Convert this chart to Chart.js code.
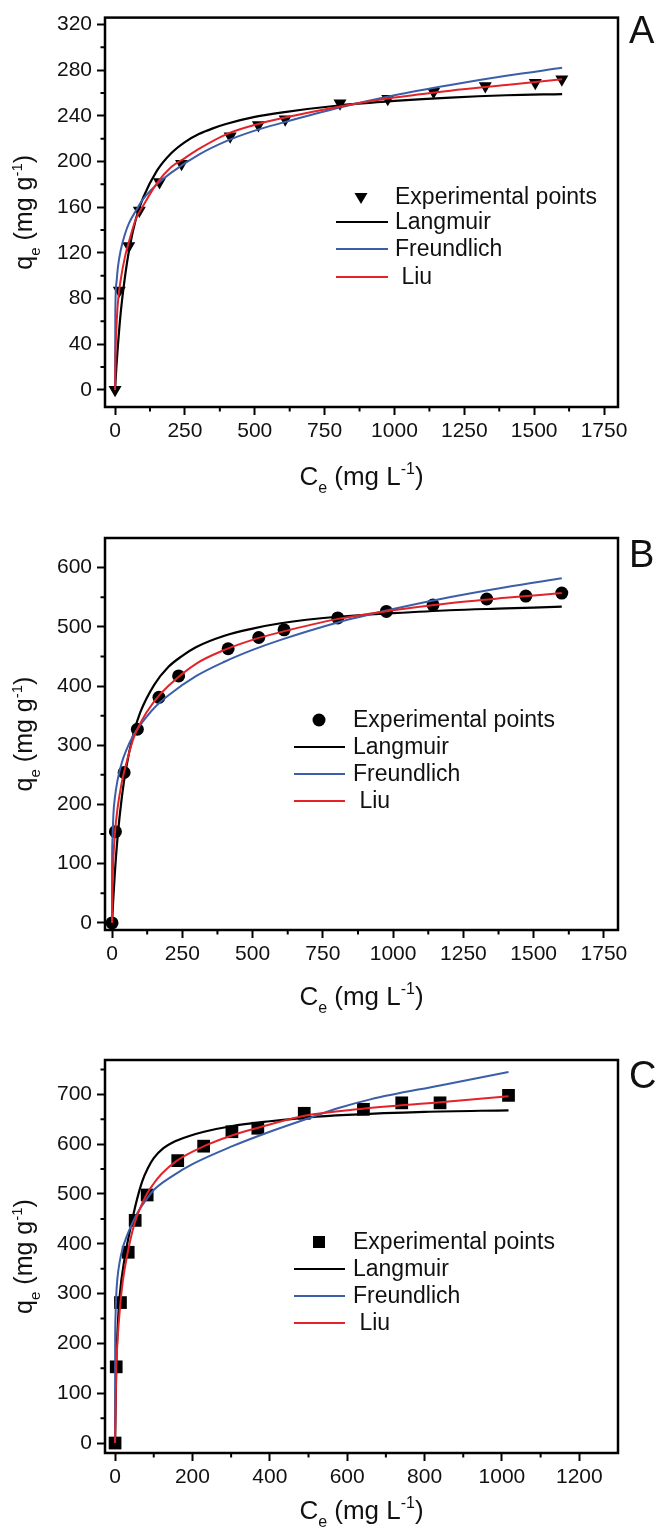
<!DOCTYPE html>
<html>
<head>
<meta charset="utf-8">
<script src="https://cdn.jsdelivr.net/npm/chart.js@4.4.1/dist/chart.umd.min.js"></script>
<style>
  html,body{margin:0;padding:0;background:#fff;}
  #wrap{position:relative;width:663px;height:1533px;}
  canvas{position:absolute;left:0;}
</style>
</head>
<body>

<div id="wrap">
  <canvas id="panelA" width="663" height="500" style="top:0px"></canvas>
  <canvas id="panelB" width="663" height="500" style="top:520px"></canvas>
  <canvas id="panelC" width="663" height="493" style="top:1040px"></canvas>
</div>

<script>
/*************************************************
 ISOTHERMS  A / B / C
*************************************************/


/* =========================================
   DATA
========================================= */

// --- A ---
const ceA = [0, 15, 49, 87, 159, 238, 412, 513, 609, 805, 976, 1140, 1325, 1504, 1599];
const qeA = [0, 87, 126, 157, 182, 198, 222, 232, 237, 251, 255, 261, 266, 269, 272];

const langCeA = [0, 5, 10, 20, 35, 50, 75, 100, 150, 200, 250, 300, 350, 400, 500, 600, 800, 1000, 1200, 1400, 1600];
const langQeA = [0, 21, 38, 67, 98, 122, 150, 168, 192, 207, 217, 224, 229, 233, 239, 243, 249, 253, 256, 258, 259];

const freuCeA = [0, 1, 5, 10, 20, 35, 50, 75, 100, 150, 200, 300, 400, 500, 600, 800, 1000, 1200, 1400, 1600];
const freuQeA = [0, 69, 94, 107, 122, 136, 146, 157, 167, 180, 190, 206, 218, 227, 234, 247, 258, 267, 275, 282];

const liuCeA = [0, 2, 5, 10, 20, 35, 50, 75, 100, 150, 200, 250, 300, 400, 500, 600, 800, 1000, 1200, 1400, 1600];
const liuQeA = [0, 35, 55, 76, 96, 116, 130, 150, 161, 181, 195, 203, 211, 224, 232, 238, 248, 256, 262, 267, 272];

// --- B ---
const ceB = [0, 12, 43, 90, 167, 237, 413, 522, 612, 803, 976, 1142, 1333, 1472, 1600];
const qeB = [0, 154, 254, 327, 381, 417, 463, 482, 495, 515, 526, 537, 547, 552, 557];

const langCeB = [0, 5, 10, 20, 35, 50, 75, 100, 150, 200, 250, 300, 400, 500, 600, 800, 1000, 1200, 1400, 1600];
const langQeB = [0, 45, 84, 146, 213, 261, 317, 355, 402, 432, 451, 466, 485, 497, 506, 517, 523, 528, 531, 534];

const freuCeB = [0, 0.2, 1, 5, 10, 20, 35, 50, 75, 100, 150, 200, 300, 400, 500, 600, 800, 1000, 1200, 1400, 1600];
const freuQeB = [0, 97, 133, 184, 211, 242, 271, 291, 316, 334, 363, 384, 417, 441, 461, 478, 507, 530, 550, 567, 582];

const liuCeB = [0, 2, 5, 10, 20, 35, 50, 75, 100, 150, 200, 300, 400, 500, 600, 800, 1000, 1200, 1400, 1600];
const liuQeB = [0, 70, 110, 150, 195, 238, 268, 310, 337, 374, 400, 438, 461, 478, 491, 513, 528, 540, 549, 557];

// --- C ---
const ceC = [0, 3, 14, 34, 52, 83, 162, 229, 302, 369, 489, 642, 741, 840, 1017];
const qeC = [0, 153, 282, 383, 447, 498, 567, 596, 625, 632, 662, 670, 683, 683, 698];

const langCeC = [0, 3, 6, 12, 25, 40, 55, 70, 85, 100, 125, 150, 190, 230, 300, 400, 500, 600, 800, 1017];
const langQeC = [0, 150, 220, 295, 372, 432, 484, 525, 552, 572, 592, 604, 616, 625, 636, 646, 654, 659, 665, 668];

const freuCeC = [0, 0.3, 1, 3, 6, 12, 20, 30, 45, 60, 80, 100, 150, 200, 300, 400, 500, 580, 660, 840, 1017];
const freuQeC = [0, 205, 249, 296, 330, 364, 392, 415, 442, 465, 488, 508, 537, 560, 595, 625, 652, 673, 690, 718, 745];

const liuCeC = [0, 3, 6, 14, 20, 30, 50, 80, 100, 120, 160, 230, 300, 370, 490, 640, 840, 1017];
const liuQeC = [0, 145, 200, 282, 325, 372, 440, 497, 521, 540, 567, 596, 617, 633, 657, 671, 684, 696];

// --- ticks ---
const tickXA  = [0, 250, 500, 750, 1000, 1250, 1500, 1750];
const minorXA = [125, 375, 625, 875, 1125, 1375, 1625];
const tickYA  = [0, 40, 80, 120, 160, 200, 240, 280, 320];
const minorYA = [20, 60, 100, 140, 180, 220, 260, 300];

const tickXB  = [0, 250, 500, 750, 1000, 1250, 1500, 1750];
const minorXB = [125, 375, 625, 875, 1125, 1375, 1625];
const tickYB  = [0, 100, 200, 300, 400, 500, 600];
const minorYB = [50, 150, 250, 350, 450, 550];

const tickXC  = [0, 200, 400, 600, 800, 1000, 1200];
const minorXC = [100, 300, 500, 700, 900, 1100];
const tickYC  = [0, 100, 200, 300, 400, 500, 600, 700];
const minorYC = [50, 150, 250, 350, 450, 550, 650, 750];

// --- texts ---
const legendLabels = ['Experimental points', 'Langmuir', 'Freundlich', ' Liu'];
const panelLetters = ['A', 'B', 'C'];
const titleX = [['C', ''], ['e', 'sub'], [' (mg L', ''], ['-1', 'sup'], [')', '']];
const titleY = [['q', ''], ['e', 'sub'], [' (mg g', ''], ['-1', 'sup'], [')', '']];


/* =========================================
   STYLE
========================================= */

const FONT  = '"Liberation Sans", Arial, sans-serif';
const BLACK = '#000000';
const BLUE  = '#3b5ea9';
const RED   = '#e2232a';


/* =========================================
   HELPERS
========================================= */

function pair(xs, ys){
  return xs.map((x, i) => ({ x: x, y: ys[i] }));
}

function drawRich(ctx, parts, x, y, size){

  const small = Math.round(size * 0.6);
  let w = 0;

  parts.forEach(([t, r]) => {
    ctx.font = (r ? small : size) + 'px ' + FONT;
    w += ctx.measureText(t).width;
  });

  let cx = x - w / 2;
  ctx.textAlign = 'left';
  ctx.textBaseline = 'alphabetic';

  parts.forEach(([t, r]) => {
    ctx.font = (r ? small : size) + 'px ' + FONT;
    let dy = 0;
    if(r === 'sub') dy = size * 0.32;
    if(r === 'sup') dy = -size * 0.42;
    ctx.fillText(t, cx, y + dy);
    cx += ctx.measureText(t).width;
  });

}

function legendMarker(ctx, style, x, y){

  ctx.beginPath();

  if(style === 'triangle'){
    ctx.moveTo(x - 6.5, y - 4);
    ctx.lineTo(x + 6.5, y - 4);
    ctx.lineTo(x, y + 7);
    ctx.closePath();
  }else if(style === 'circle'){
    ctx.arc(x, y, 6.5, 0, Math.PI * 2);
  }else{
    ctx.rect(x - 6, y - 6, 12, 12);
  }

  ctx.fill();

}


/* =========================================
   FRAME / MINOR TICKS / TITLES / LEGEND
========================================= */

const deco = {

  id: 'deco',

  afterDraw(chart, args, o){

    const ctx = chart.ctx;
    const a = chart.chartArea;
    const sx = chart.scales.x;
    const sy = chart.scales.y;

    ctx.save();

    // frame
    ctx.strokeStyle = '#000';
    ctx.lineWidth = 2.5;
    ctx.strokeRect(a.left, a.top, a.right - a.left, a.bottom - a.top);

    // minor ticks
    ctx.lineWidth = 2;
    ctx.beginPath();
    o.minorX.forEach(v => {
      const px = sx.getPixelForValue(v);
      ctx.moveTo(px, a.bottom);
      ctx.lineTo(px, a.bottom + 4.5);
    });
    o.minorY.forEach(v => {
      const py = sy.getPixelForValue(v);
      ctx.moveTo(a.left, py);
      ctx.lineTo(a.left - 4.5, py);
    });
    ctx.stroke();

    // axis titles
    ctx.fillStyle = '#111';
    drawRich(ctx, titleX, (a.left + a.right) / 2, o.xTitleY, 26);

    ctx.save();
    ctx.translate(32, (a.top + a.bottom) / 2);
    ctx.rotate(-Math.PI / 2);
    drawRich(ctx, titleY, 0, 0, 25);
    ctx.restore();

    // panel letter
    ctx.font = '38px ' + FONT;
    ctx.textAlign = 'left';
    ctx.textBaseline = 'middle';
    ctx.fillText(o.letter, 629, o.letterY);

    // legend
    const L = o.legend;
    const sets = chart.data.datasets;

    ctx.font = '23px ' + FONT;
    ctx.textBaseline = 'middle';

    sets.forEach((ds, i) => {

      const y = L.rows[i];

      if(i === 0){
        ctx.fillStyle = '#000';
        legendMarker(ctx, L.marker, L.markerX, y);
      }else{
        ctx.strokeStyle = ds.borderColor;
        ctx.lineWidth = 2;
        ctx.beginPath();
        ctx.moveTo(L.lineX0, y);
        ctx.lineTo(L.lineX1, y);
        ctx.stroke();
      }

      ctx.fillStyle = '#111';
      ctx.fillText(ds.label, L.textX, y + 1);

    });

    ctx.restore();

  }

};


/* =========================================
   PANEL
========================================= */

function createPanel(id, p){

  const tickFont = { family: FONT, size: 21 };

  return new Chart(document.getElementById(id), {

    type: 'scatter',

    data: {
      datasets: [
        {
          label: legendLabels[0],
          data: pair(p.ce, p.qe),
          pointStyle: p.marker,
          pointRadius: p.markerSize,
          pointHoverRadius: p.markerSize,
          pointRotation: p.markerRot,
          backgroundColor: '#000',
          borderColor: '#000',
          pointBorderWidth: 0,
          clip: false,
          order: 4
        },
        {
          label: legendLabels[1],
          data: pair(p.langCe, p.langQe),
          showLine: true,
          borderColor: BLACK,
          borderWidth: 2.2,
          pointRadius: 0,
          cubicInterpolationMode: 'monotone',
          order: 3
        },
        {
          label: legendLabels[2],
          data: pair(p.freuCe, p.freuQe),
          showLine: true,
          borderColor: BLUE,
          borderWidth: 2,
          pointRadius: 0,
          cubicInterpolationMode: 'monotone',
          order: 2
        },
        {
          label: legendLabels[3],
          data: pair(p.liuCe, p.liuQe),
          showLine: true,
          borderColor: RED,
          borderWidth: 2,
          pointRadius: 0,
          cubicInterpolationMode: 'monotone',
          order: 1
        }
      ]
    },

    options: {

      responsive: false,
      animation: false,
      events: [],

      layout: {
        padding: { left: 0, right: 45, top: p.top, bottom: 0 }
      },

      plugins: {
        legend: { display: false },
        tooltip: { enabled: false },
        deco: {
          minorX: p.minorX,
          minorY: p.minorY,
          xTitleY: p.xTitleY,
          letter: p.letter,
          letterY: p.letterY,
          legend: p.legend
        }
      },

      scales: {

        x: {
          type: 'linear',
          min: p.xMin,
          max: p.xMax,
          afterBuildTicks: s => { s.ticks = p.tickX.map(v => ({ value: v })); },
          afterFit: s => { s.height = p.height - p.bottom; },
          ticks: {
            callback: v => String(v),
            font: tickFont,
            color: '#111',
            padding: 4,
            maxRotation: 0,
            autoSkip: false
          },
          grid: {
            drawOnChartArea: false,
            drawTicks: true,
            tickLength: 8,
            tickWidth: 2,
            tickColor: '#000'
          },
          border: { display: false }
        },

        y: {
          type: 'linear',
          min: p.yMin,
          max: p.yMax,
          afterBuildTicks: s => { s.ticks = p.tickY.map(v => ({ value: v })); },
          afterFit: s => { s.width = 105; },
          ticks: {
            callback: v => String(v),
            font: tickFont,
            color: '#111',
            padding: 5,
            autoSkip: false
          },
          grid: {
            drawOnChartArea: false,
            drawTicks: true,
            tickLength: 8,
            tickWidth: 2,
            tickColor: '#000'
          },
          border: { display: false }
        }

      }

    },

    plugins: [deco]

  });

}


/* =========================================
   BUILD
========================================= */

createPanel('panelA', {
  ce: ceA, qe: qeA,
  langCe: langCeA, langQe: langQeA,
  freuCe: freuCeA, freuQe: freuQeA,
  liuCe: liuCeA, liuQe: liuQeA,
  marker: 'triangle', markerSize: 7.5, markerRot: 180,
  tickX: tickXA, minorX: minorXA, tickY: tickYA, minorY: minorYA,
  xMin: -36, xMax: 1800, yMin: -15, yMax: 326,
  height: 500, top: 15, bottom: 407,
  xTitleY: 485, letter: panelLetters[0], letterY: 33,
  legend: { marker: 'triangle', markerX: 361, textX: 395, lineX0: 336, lineX1: 388, rows: [197, 222, 249, 277] }
});

createPanel('panelB', {
  ce: ceB, qe: qeB,
  langCe: langCeB, langQe: langQeB,
  freuCe: freuCeB, freuQe: freuQeB,
  liuCe: liuCeB, liuQe: liuQeB,
  marker: 'circle', markerSize: 6.5, markerRot: 0,
  tickX: tickXB, minorX: minorXB, tickY: tickYB, minorY: minorYB,
  xMin: -25, xMax: 1800, yMin: -12, yMax: 650,
  height: 500, top: 18, bottom: 410,
  xTitleY: 485, letter: panelLetters[1], letterY: 37,
  legend: { marker: 'circle', markerX: 319, textX: 353, lineX0: 294, lineX1: 345, rows: [200, 227, 254, 281] }
});

createPanel('panelC', {
  ce: ceC, qe: qeC,
  langCe: langCeC, langQe: langQeC,
  freuCe: freuCeC, freuQe: freuQeC,
  liuCe: liuCeC, liuQe: liuQeC,
  marker: 'rect', markerSize: 9, markerRot: 0,
  tickX: tickXC, minorX: minorXC, tickY: tickYC, minorY: minorYC,
  xMin: -26, xMax: 1300, yMin: -20, yMax: 769,
  height: 493, top: 20, bottom: 413,
  xTitleY: 479, letter: panelLetters[2], letterY: 38,
  legend: { marker: 'rect', markerX: 319, textX: 353, lineX0: 294, lineX1: 345, rows: [202, 229, 256, 283] }
});
</script>

</body>
</html>
